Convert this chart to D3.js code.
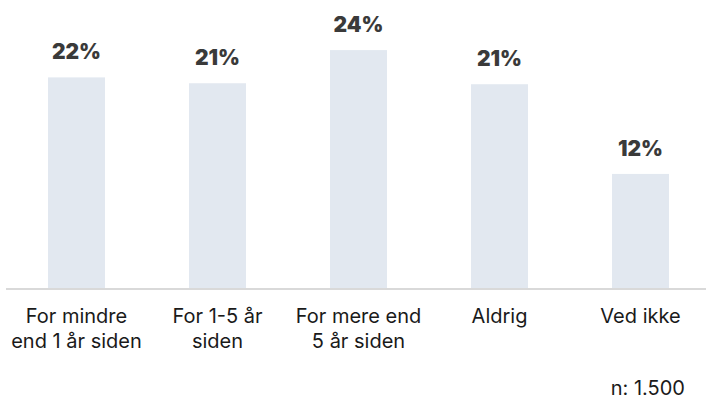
<!DOCTYPE html>
<html>
<head>
<meta charset="utf-8">
<script src="https://cdn.jsdelivr.net/npm/d3@7"></script>
<style>
  body { margin: 0; background: #fff; }
  svg { display: block; }
</style>
</head>
<body>
<div id="chart"></div>
<script>
// data
const categories = [
    ["For mindre", "end 1 år siden"],
    ["For 1-5 år", "siden"],
    ["For mere end", "5 år siden"],
    ["Aldrig"],
    ["Ved ikke"]
];
const values = [21.6, 21.0, 24.4, 20.9, 11.7];
const value_labels = ["22%", "21%", "24%", "21%", "12%"];
const note = "n: 1.500";

const width = 706;
const height = 400;
const base_y = 288;

const svg = d3.select("#chart")
    .append("svg")
    .attr("width", width)
    .attr("height", height);

const x = d3.scaleBand()
    .domain(d3.range(values.length))
    .range([6, 711])
    .paddingInner(84 / 141)
    .paddingOuter(42 / 141);

const y = d3.scaleLinear()
    .domain([0, 28])
    .range([base_y, base_y - 28 * 9.75]);

// bars
svg.append("g")
    .attr("fill", "#e2e8f0")
    .selectAll("rect")
    .data(values)
    .join("rect")
        .attr("x", (d, i) => x(i))
        .attr("y", d => y(d))
        .attr("height", d => y(0) - y(d))
        .attr("width", x.bandwidth());

// value labels
svg.append("g")
    .attr("font-family", "Inter, sans-serif")
    .attr("font-weight", 900)
    .attr("font-size", "21px")
    .attr("fill", "#3a3a3a")
    .attr("text-anchor", "middle")
    .selectAll("text")
    .data(values)
    .join("text")
        .attr("x", (d, i) => x(i) + x.bandwidth() / 2)
        .attr("y", d => y(d) - 18)
        .text((d, i) => value_labels[i]);

// axis line
svg.append("line")
    .attr("x1", 6)
    .attr("x2", width)
    .attr("y1", base_y + 1)
    .attr("y2", base_y + 1)
    .attr("stroke", "#d9d9d9")
    .attr("stroke-width", 2);

// category labels
const cat = svg.append("g")
    .attr("font-family", "Inter, sans-serif")
    .attr("font-size", "20px")
    .attr("fill", "#1a1a1a")
    .attr("text-anchor", "middle")
    .selectAll("text")
    .data(categories)
    .join("text")
        .attr("x", (d, i) => x(i) + x.bandwidth() / 2)
        .attr("y", 323);

cat.selectAll("tspan")
    .data(d => d)
    .join("tspan")
        .attr("x", function () { return this.parentNode.getAttribute("x"); })
        .attr("dy", (d, i) => i === 0 ? 0 : 25)
        .text(d => d);

svg.append("text")
    .attr("x", 685)
    .attr("y", 395)
    .attr("text-anchor", "end")
    .attr("font-family", "Inter, sans-serif")
    .attr("font-size", "20px")
    .attr("fill", "#1a1a1a")
    .text(note);
</script>
</body>
</html>
